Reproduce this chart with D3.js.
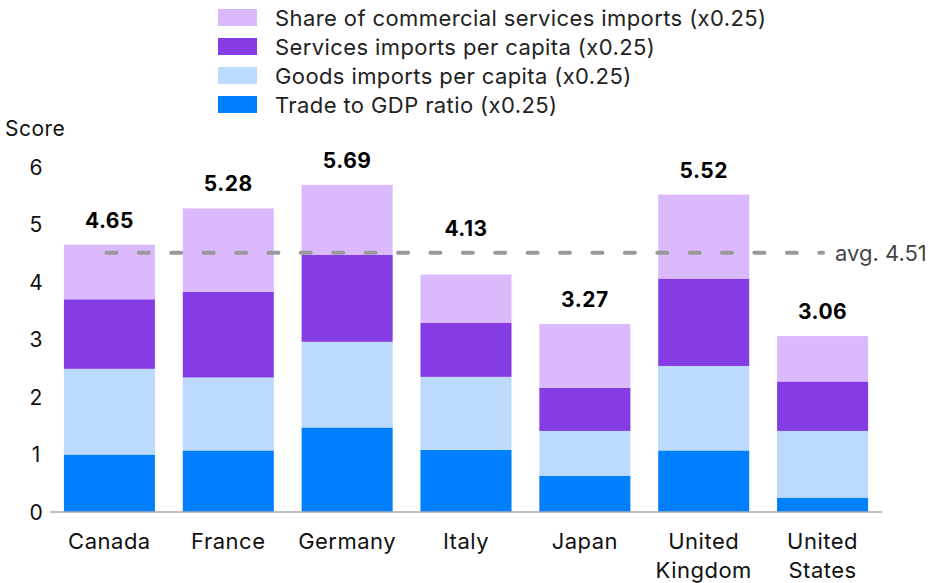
<!DOCTYPE html>
<html>
<head>
<meta charset="utf-8">
<script src="https://cdn.jsdelivr.net/npm/d3@7"></script>
<style>
body{margin:0;background:#fff;}
svg text{font-family:"Inter","Noto Sans",sans-serif;}
</style>
</head>
<body>
<div id="chart"></div>
<script>
// data
var countries=["Canada","France","Germany","Italy","Japan","United Kingdom","United States"];
var tradeGdp=[1.00,1.07,1.47,1.08,0.63,1.07,0.25];
var goodsPerCap=[1.49,1.27,1.49,1.27,0.78,1.47,1.16];
var servicesPerCap=[1.21,1.49,1.51,0.94,0.75,1.52,0.86];
var shareCommercial=[0.95,1.45,1.22,0.84,1.11,1.46,0.79];
var totals=[4.65,5.28,5.69,4.13,3.27,5.52,3.06];
var avgScore=4.51;
var yTicks=[0,1,2,3,4,5,6];
var seriesNames=["Trade to GDP ratio (x0.25)","Goods imports per capita (x0.25)","Services imports per capita (x0.25)","Share of commercial services imports (x0.25)"];
var colors=["#007fff","#bbdafd","#863ce4","#dabafc"];

var width=935,height=583;
var svg=d3.select("#chart").append("svg")
	.attr("width",width)
	.attr("height",height);

var x=d3.scaleBand()
	.domain(countries)
	.range([50,882])
	.paddingInner(0.234)
	.paddingOuter(0.117);

var y=d3.scaleLinear()
	.domain([0,6])
	.range([512,167]);

// stack the rows
var rows=countries.map(function(c,i){
	return {country:c,s0:tradeGdp[i],s1:goodsPerCap[i],s2:servicesPerCap[i],s3:shareCommercial[i]};
});
var stack=d3.stack().keys(["s0","s1","s2","s3"]);
var layers=stack(rows);

svg.selectAll("g.layer")
	.data(layers)
	.enter()
	.append("g")
	.attr("class","layer")
	.attr("fill",function(d,i){return colors[i];})
	.selectAll("rect")
	.data(function(d){return d;})
	.enter()
	.append("rect")
	.attr("x",function(d){return x(d.data.country);})
	.attr("y",function(d){return y(d[1]);})
	.attr("width",x.bandwidth())
	.attr("height",function(d){return y(d[0])-y(d[1]);});

// axis line
svg.append("line")
	.attr("x1",50).attr("x2",882)
	.attr("y1",y(0)).attr("y2",y(0))
	.attr("stroke","#aaaaaa")
	.attr("stroke-width",1.5);

// y ticks
svg.selectAll("text.ytick")
	.data(yTicks)
	.enter()
	.append("text")
	.attr("class","ytick")
	.attr("x",36)
	.attr("y",function(d){return y(d);})
	.attr("dy","0.36em")
	.attr("text-anchor","middle")
	.style("font-size","21px")
	.style("fill","#111")
	.text(function(d){return d;});

svg.append("text")
	.attr("x",5)
	.attr("y",136)
	.style("font-size","21px")
	.style("letter-spacing","0.5px")
	.style("fill","#111")
	.text("Score");

// x labels
svg.selectAll("text.xlab")
	.data(countries)
	.enter()
	.append("text")
	.attr("class","xlab")
	.attr("text-anchor","middle")
	.attr("x",function(d){return x(d)+x.bandwidth()/2;})
	.attr("y",549)
	.style("font-size","22px")
	.style("letter-spacing","0.5px")
	.style("fill","#111")
	.each(function(d){
		var parts=d.split(" ");
		var t=d3.select(this);
		parts.forEach(function(p,i){
			t.append("tspan")
				.attr("x",x(d)+x.bandwidth()/2)
				.attr("dy",i==0?0:29)
				.text(p);
		});
	});

// totals, moved above the avg line if they would sit on it
var avgY=y(avgScore);
function labelY(v){
	var ly=y(v)-17;
	if(ly-17<avgY+4 && ly+3>avgY-4){
		ly=avgY-17;
	}
	return ly;
}
svg.selectAll("text.total")
	.data(totals)
	.enter()
	.append("text")
	.attr("class","total")
	.attr("text-anchor","middle")
	.attr("x",function(d,i){return x(countries[i])+x.bandwidth()/2;})
	.attr("y",function(d){return labelY(d);})
	.style("font-size","21px")
	.style("font-weight","bold")
	.style("letter-spacing","0.5px")
	.style("fill","#000")
	.text(function(d){return d.toFixed(2);});

// average line
svg.append("line")
	.attr("x1",x(countries[0])+x.bandwidth()/2-3)
	.attr("x2",823)
	.attr("y1",avgY).attr("y2",avgY)
	.attr("stroke","#999999")
	.attr("stroke-width",4)
	.attr("stroke-linecap","round")
	.attr("stroke-dasharray","10,22.4");

svg.append("text")
	.attr("x",835)
	.attr("y",avgY)
	.attr("dy","0.36em")
	.style("font-size","22px")
	.style("fill","#444")
	.text("avg. "+avgScore);

// legend, top row is the last series
var legend=svg.append("g").attr("class","legend");
var legendOrder=[3,2,1,0];
legendOrder.forEach(function(s,i){
	legend.append("rect")
		.attr("x",218)
		.attr("y",9+i*29)
		.attr("width",39)
		.attr("height",17)
		.style("fill",colors[s]);
	legend.append("text")
		.attr("x",275)
		.attr("y",18+i*29)
		.attr("dy","0.36em")
		.style("font-size","22px")
		.style("letter-spacing","0.4px")
		.style("fill","#222")
		.text(seriesNames[s]);
});
</script>
</body>
</html>
